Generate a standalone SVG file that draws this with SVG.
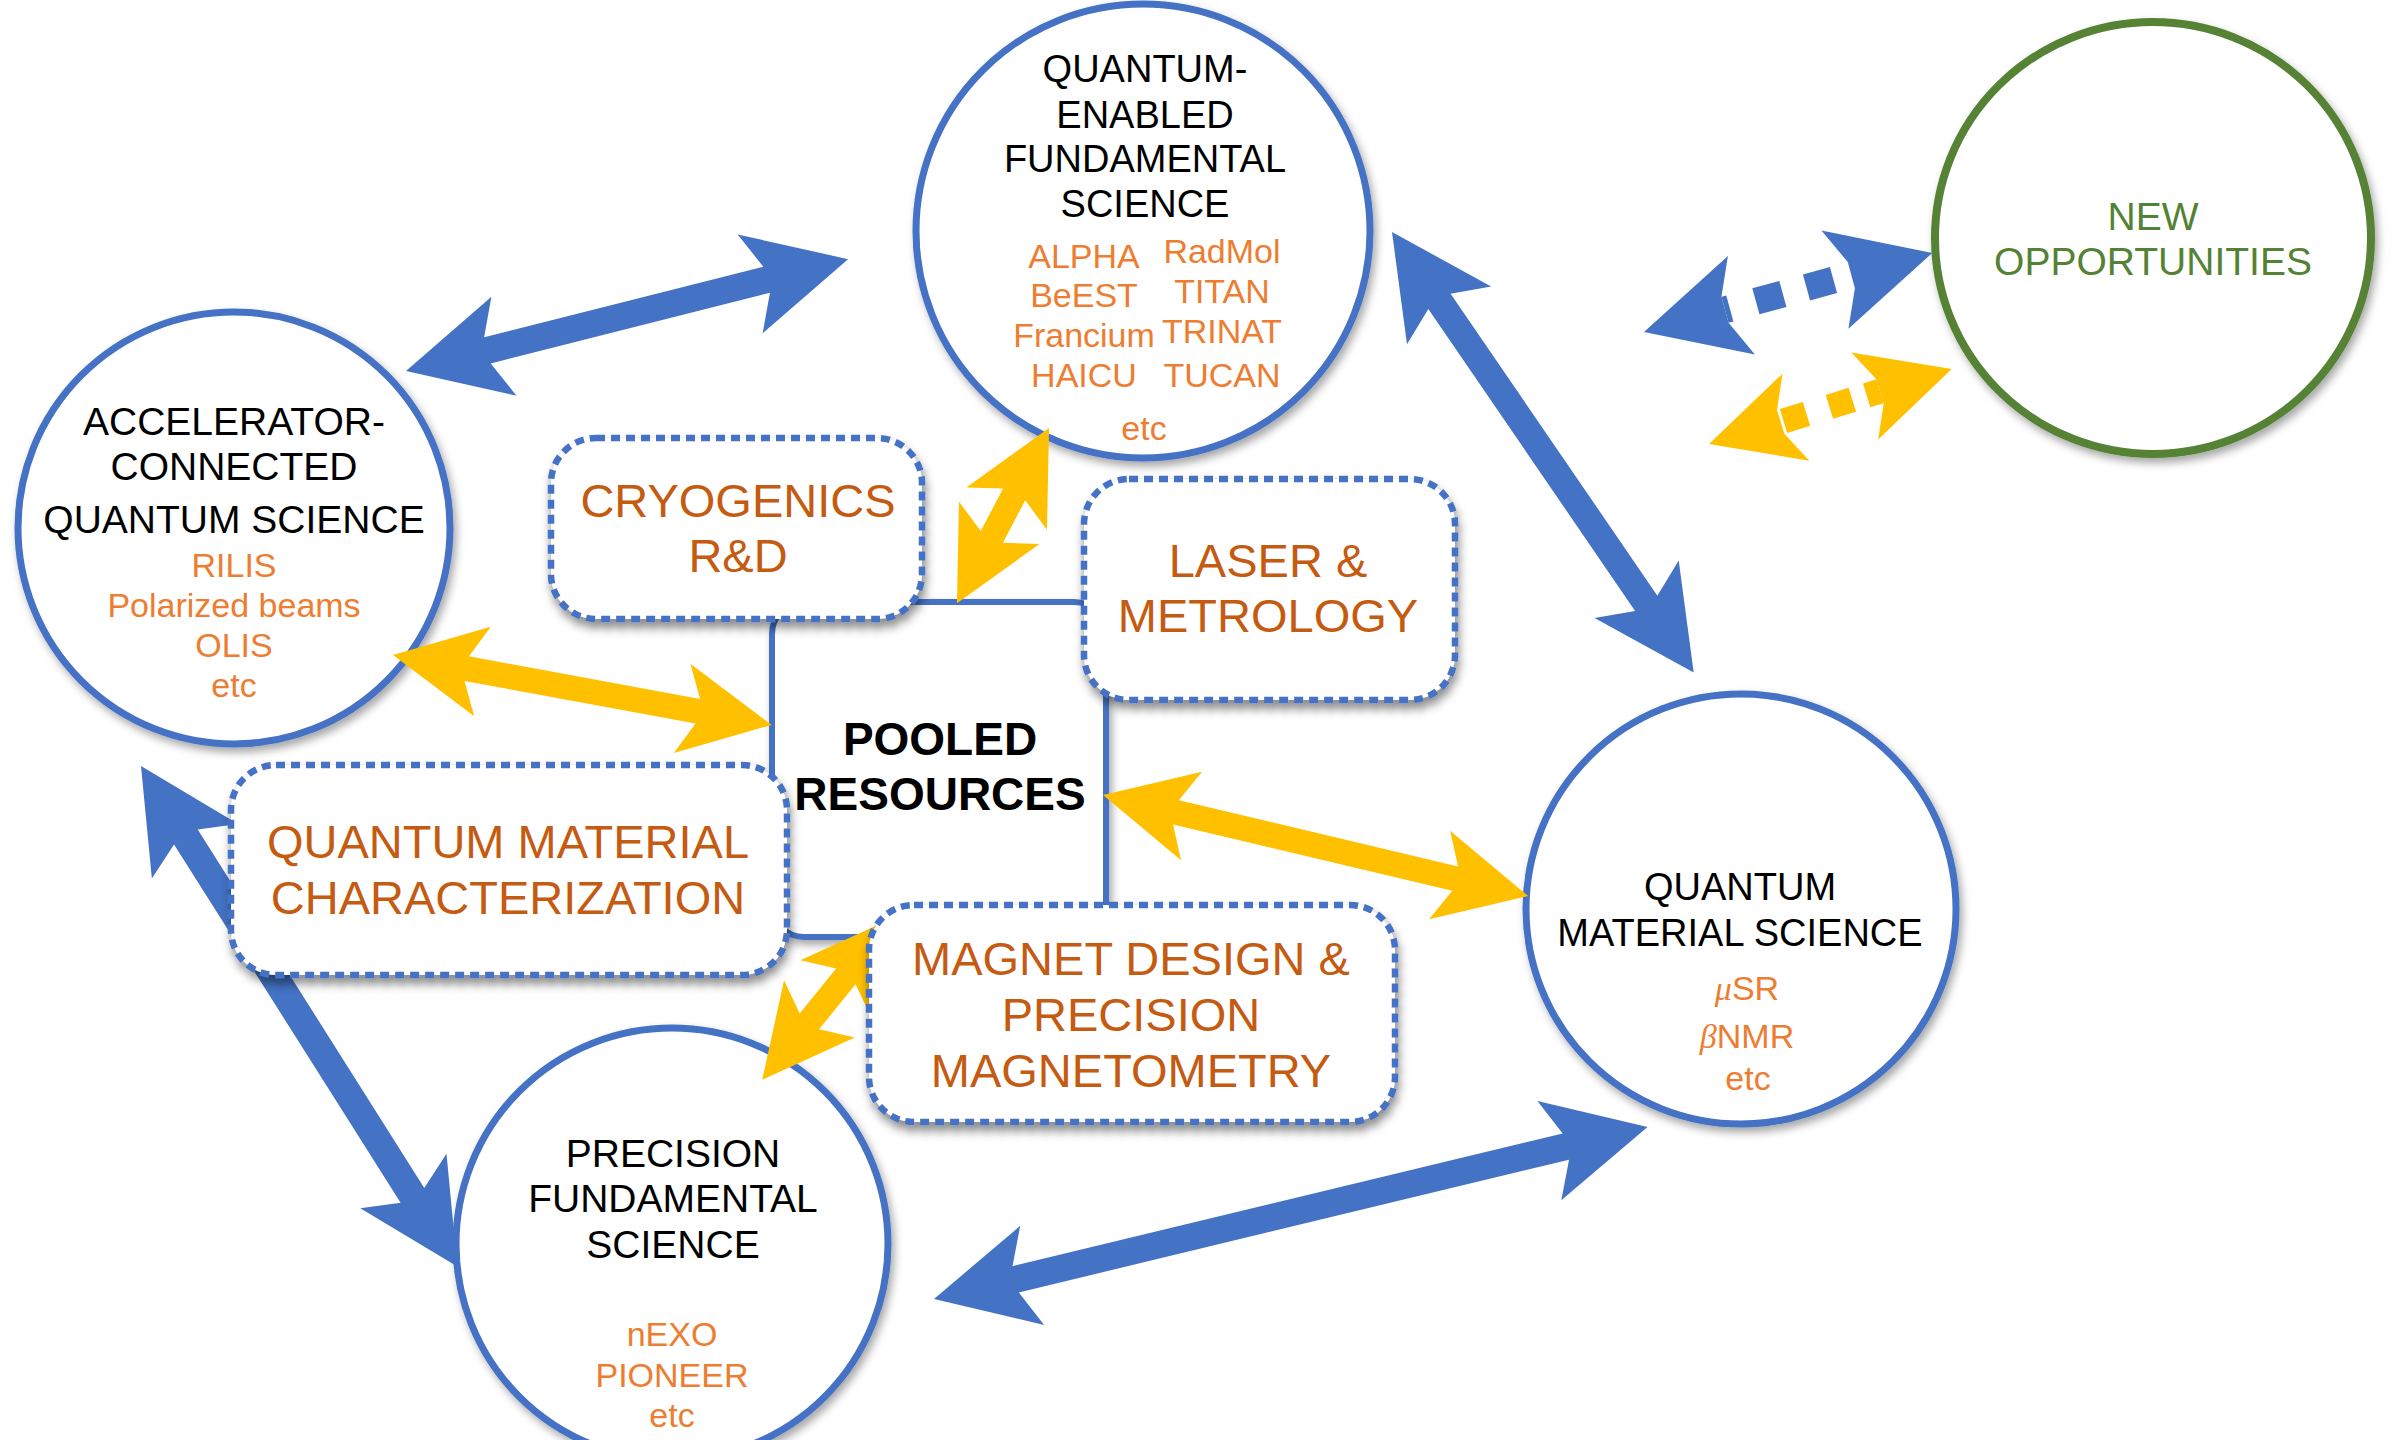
<svg xmlns="http://www.w3.org/2000/svg" width="2404" height="1440" viewBox="0 0 2404 1440">
<defs>
<filter id="sh" x="-20%" y="-20%" width="140%" height="140%">
<feDropShadow dx="3" dy="5" stdDeviation="4" flood-color="#000" flood-opacity="0.35"/>
</filter>
<filter id="shb" x="-20%" y="-20%" width="140%" height="140%">
<feDropShadow dx="2" dy="7" stdDeviation="5" flood-color="#000" flood-opacity="0.45"/>
</filter>
<style>
.circ{fill:#fff;stroke:#4472C4;stroke-width:7;filter:url(#sh)}
.dbox{fill:#fff;stroke:#4472C4;stroke-width:6.5;stroke-dasharray:9 6;filter:url(#shb)}
.t{font-family:"Liberation Sans",Arial,sans-serif;text-anchor:middle}
.blk{fill:#000}
.org{fill:#ED7D31;font-size:34px}
.brn{fill:#C55A11;font-size:47px}
.blue{fill:#4472C4}
.yel{fill:#FFC000}
</style>
</defs>
<rect width="2404" height="1440" fill="#fff"/>

<g id="node-qefs">
<circle class="circ" cx="1143" cy="231" r="227"/>
<g class="t blk" font-size="38">
<text x="1145" y="82">QUANTUM-</text>
<text x="1145" y="128">ENABLED</text>
<text x="1145" y="172">FUNDAMENTAL</text>
<text x="1145" y="217">SCIENCE</text>
</g>
<g class="t org">
<text x="1084" y="268">ALPHA</text>
<text x="1084" y="307">BeEST</text>
<text x="1084" y="347">Francium</text>
<text x="1084" y="387">HAICU</text>
<text x="1222" y="263">RadMol</text>
<text x="1222" y="303">TITAN</text>
<text x="1222" y="343">TRINAT</text>
<text x="1222" y="387">TUCAN</text>
<text x="1144" y="440">etc</text>
</g>
</g>

<g id="node-acqs">
<circle class="circ" cx="234" cy="528" r="216"/>
<g class="t blk" font-size="39">
<text x="234" y="435">ACCELERATOR-</text>
<text x="234" y="480">CONNECTED</text>
<text x="234" y="533">QUANTUM SCIENCE</text>
</g>
<g class="t org">
<text x="234" y="577">RILIS</text>
<text x="234" y="617">Polarized beams</text>
<text x="234" y="657">OLIS</text>
<text x="234" y="697">etc</text>
</g>
</g>

<g id="node-qms">
<circle class="circ" cx="1741" cy="909" r="215"/>
<g class="t blk" font-size="38">
<text x="1740" y="900">QUANTUM</text>
<text x="1740" y="946">MATERIAL SCIENCE</text>
</g>
<g class="t org">
<text x="1747" y="1000"><tspan font-family="Liberation Serif,serif" font-style="italic">μ</tspan>SR</text>
<text x="1747" y="1048"><tspan font-family="Liberation Serif,serif" font-style="italic">β</tspan>NMR</text>
<text x="1748" y="1090">etc</text>
</g>
</g>

<g id="node-pfs">
<circle class="circ" cx="672" cy="1244" r="216"/>
<g class="t blk" font-size="39">
<text x="673" y="1167">PRECISION</text>
<text x="673" y="1212">FUNDAMENTAL</text>
<text x="673" y="1258">SCIENCE</text>
</g>
<g class="t org">
<text x="672" y="1346">nEXO</text>
<text x="672" y="1387">PIONEER</text>
<text x="672" y="1427">etc</text>
</g>
</g>

<g id="node-new">
<ellipse cx="2153" cy="238" rx="218" ry="216" fill="#fff" stroke="#548235" stroke-width="8" filter="url(#sh)"/>
<g class="t" font-size="39" fill="#548235">
<text x="2153" y="230">NEW</text>
<text x="2153" y="275">OPPORTUNITIES</text>
</g>
</g>

<g id="node-pooled">
<rect x="772" y="602" width="334" height="335" rx="32" fill="#fff" stroke="#4472C4" stroke-width="6" filter="url(#sh)"/>
<g class="t blk" font-size="46" font-weight="bold">
<text x="940" y="755">POOLED</text>
<text x="940" y="810">RESOURCES</text>
</g>
</g>

<g id="connectors">
<polygon class="blue" transform="translate(406,371) rotate(-14.2)" points="0,0 101,-51 84,-13.5 372,-13.5 355,-51 456,0 355,51 372,13.5 84,13.5 101,51"/>
<polygon class="blue" transform="translate(1392,232) rotate(55.6)" points="0,0 101,-51 84,-13.5 450,-13.5 433,-51 534,0 433,51 450,13.5 84,13.5 101,51"/>
<polygon class="blue" transform="translate(141,766) rotate(57.7)" points="0,0 101,-51 84,-14 508,-14 491,-51 592,0 491,51 508,14 84,14 101,51"/>
<polygon class="blue" transform="translate(934,1299) rotate(-13.56)" points="0,0 101,-51 84,-13.5 650,-13.5 633,-51 734,0 633,51 650,13.5 84,13.5 101,51"/>
<polygon class="yel" transform="translate(393,655) rotate(10.46)" points="0,0 91,-45.5 75,-12.5 310,-12.5 294,-45.5 385,0 294,45.5 310,12.5 75,12.5 91,45.5"/>
<polygon class="yel" transform="translate(1049,428) rotate(117.7)" points="0,0 91,-45.5 75,-12.5 123,-12.5 107,-45.5 198,0 107,45.5 123,12.5 75,12.5 91,45.5"/>
<polygon class="yel" transform="translate(1103,795) rotate(13.37)" points="0,0 91,-45.5 75,-12.5 362,-12.5 346,-45.5 437,0 346,45.5 362,12.5 75,12.5 91,45.5"/>
<polygon class="yel" transform="translate(893,918) rotate(128.96)" points="0,0 91,-45.5 75,-12.5 133,-12.5 117,-45.5 208,0 117,45.5 133,12.5 75,12.5 91,45.5"/>
<g transform="translate(1644,332) rotate(-15.34)">
<polygon class="blue" points="0,0 101,-51 84,-13.5 84,13.5 101,51"/>
<polygon class="blue" points="299,0 198,-51 215,-13.5 215,13.5 198,51"/>
<line x1="84" y1="0" x2="215" y2="0" stroke="#4472C4" stroke-width="27" stroke-dasharray="5 27 28 24.5 28 200"/>
</g>
<g transform="translate(1709,444) rotate(-17.15)">
<polygon class="yel" points="0,0 91,-45.5 75,-12.5 75,12.5 91,45.5"/>
<polygon class="yel" points="254,0 163,-45.5 179,-12.5 179,12.5 163,45.5"/>
<line x1="78" y1="0" x2="179" y2="0" stroke="#FFC000" stroke-width="25" stroke-dasharray="24 24 24 15 30"/>
</g>
</g>

<g id="node-cryo">
<rect class="dbox" x="551" y="438" width="371" height="181" rx="45"/>
<g class="t brn">
<text x="738" y="517">CRYOGENICS</text>
<text x="738" y="572">R&amp;D</text>
</g>
</g>

<g id="node-laser">
<rect class="dbox" x="1084" y="479" width="371" height="221" rx="45"/>
<g class="t brn">
<text x="1268" y="577">LASER &amp;</text>
<text x="1268" y="632">METROLOGY</text>
</g>
</g>

<g id="node-qmc">
<rect class="dbox" x="231" y="765" width="556" height="210" rx="45"/>
<g class="t brn">
<text x="508" y="858">QUANTUM MATERIAL</text>
<text x="508" y="914">CHARACTERIZATION</text>
</g>
</g>

<g id="node-magnet">
<rect class="dbox" x="869" y="905" width="526" height="217" rx="45"/>
<g class="t brn">
<text x="1131" y="975">MAGNET DESIGN &amp;</text>
<text x="1131" y="1031">PRECISION</text>
<text x="1131" y="1087">MAGNETOMETRY</text>
</g>
</g>
</svg>
